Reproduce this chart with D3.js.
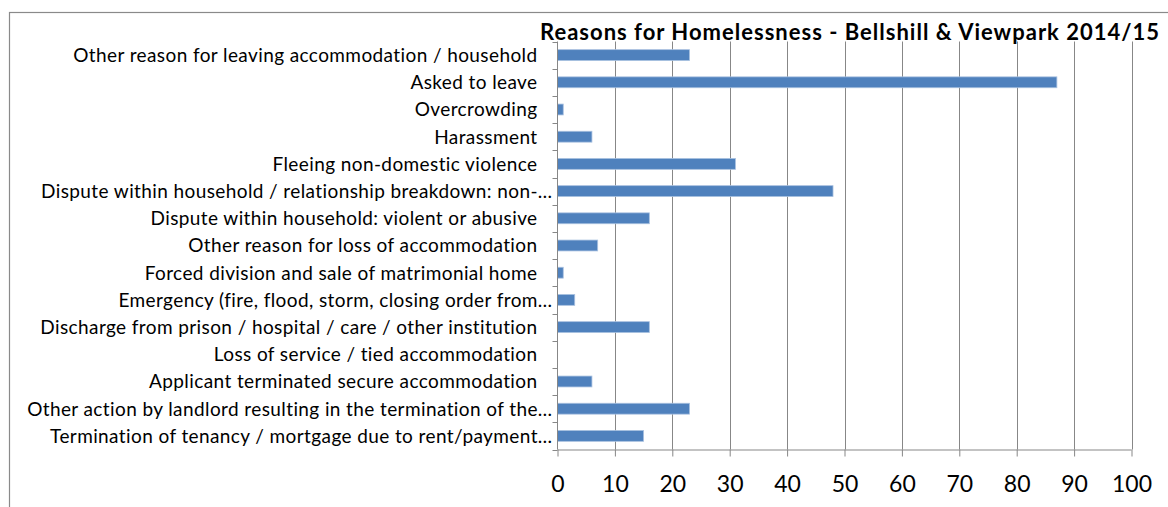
<!DOCTYPE html>
<html>
<head>
<meta charset="utf-8">
<script src="https://cdn.jsdelivr.net/npm/d3@7"></script>
<style>
  html, body { margin: 0; padding: 0; background: #fff; }
  svg { display: block; }
  text { font-family: Lato, "Open Sans", sans-serif; fill: #000; }
</style>
</head>
<body>
<svg id="chart" width="1168" height="507"></svg>
<script>
// Reasons for homelessness, counts per category (top to bottom)
const categories = [
  "Other reason for leaving accommodation / household",
  "Asked to leave",
  "Overcrowding",
  "Harassment",
  "Fleeing non-domestic violence",
  "Dispute within household / relationship breakdown: non-…",
  "Dispute within household: violent or abusive",
  "Other reason for loss of accommodation",
  "Forced division and sale of matrimonial home",
  "Emergency (fire, flood, storm, closing order from…",
  "Discharge from prison / hospital / care / other institution",
  "Loss of service / tied accommodation",
  "Applicant terminated secure accommodation",
  "Other action by landlord resulting in the termination of the…",
  "Termination of tenancy / mortgage due to rent/payment…"
];
const values = [23, 87, 1, 6, 31, 48, 16, 7, 1, 3, 16, 0, 6, 23, 15];
const xTicks = [0, 10, 20, 30, 40, 50, 60, 70, 80, 90, 100];
const title = "Reasons for Homelessness - Bellshill & Viewpark 2014/15";

const svg = d3.select("#chart");
const gridColor = "#878787";

// outer chart frame
svg.append("rect")
  .attr("x", 9.5).attr("y", 12.5)
  .attr("width", 1300).attr("height", 600)
  .attr("fill", "none").attr("stroke", "#8a8a8a").attr("stroke-width", 1.2);

const plot = { left: 557.5, right: 1131.5, top: 41.5, bottom: 449.5 };

const x = d3.scaleLinear().domain([0, 100]).range([plot.left, plot.right]);
const y = d3.scaleBand().domain(categories)
  .range([plot.top, plot.bottom])
  .paddingInner(0.6).paddingOuter(0.3);

// vertical gridlines
svg.append("g").selectAll("line")
  .data(xTicks.filter(d => d > 0))
  .join("line")
  .attr("x1", d => Math.round(x(d)) + 0.5).attr("x2", d => Math.round(x(d)) + 0.5)
  .attr("y1", plot.top).attr("y2", plot.bottom)
  .attr("stroke", gridColor).attr("stroke-width", 1);

// bars
svg.append("g").selectAll("rect")
  .data(categories.map((c, i) => ({ c, v: values[i] })).filter(d => d.v > 0))
  .join("rect")
  .attr("x", x(0))
  .attr("y", d => y(d.c))
  .attr("width", d => x(d.v) - x(0))
  .attr("height", y.bandwidth())
  .attr("fill", "#4f81bd")
  .attr("stroke", "#a9c1e0").attr("stroke-width", 0.8);

// x axis
const xAxis = d3.axisBottom(x).tickValues(xTicks).tickSize(7)
  .tickFormat(d3.format("d"));
const gx = svg.append("g").attr("transform", `translate(0,${plot.bottom})`).call(xAxis);
gx.select(".domain").attr("stroke", gridColor).attr("d", `M${plot.left},0.5H${plot.right}`);
gx.selectAll(".tick line").attr("stroke", gridColor);
gx.selectAll(".tick text")
  .attr("y", 42).attr("dy", null)
  .attr("font-size", 23).attr("font-family", "Lato").attr("fill", "#000");

// y axis: line with tick marks at category boundaries
const step = y.step();
const bounds = d3.range(categories.length + 1).map(i => plot.top + i * step);
svg.append("line")
  .attr("x1", plot.left).attr("x2", plot.left)
  .attr("y1", plot.top).attr("y2", plot.bottom)
  .attr("stroke", gridColor);
svg.append("g").selectAll("line")
  .data(bounds)
  .join("line")
  .attr("x1", plot.left - 5).attr("x2", plot.left)
  .attr("y1", d => Math.round(d) + 0.5).attr("y2", d => Math.round(d) + 0.5)
  .attr("stroke", gridColor);

// category labels
svg.append("g").selectAll("text")
  .data(categories)
  .join("text")
  .attr("x", d => d.endsWith("…") ? plot.left - 5 : plot.left - 20)
  .attr("y", d => y(d) + y.bandwidth() / 2)
  .attr("dy", "0.36em")
  .attr("text-anchor", "end")
  .attr("font-size", 19)
  .attr("letter-spacing", 0.4)
  .text(d => d);

// title
svg.append("text")
  .attr("x", 540).attr("y", 39.5)
  .attr("font-size", 22).attr("font-weight", "bold")
  .attr("letter-spacing", 1.0)
  .text(title);
</script>
</body>
</html>
